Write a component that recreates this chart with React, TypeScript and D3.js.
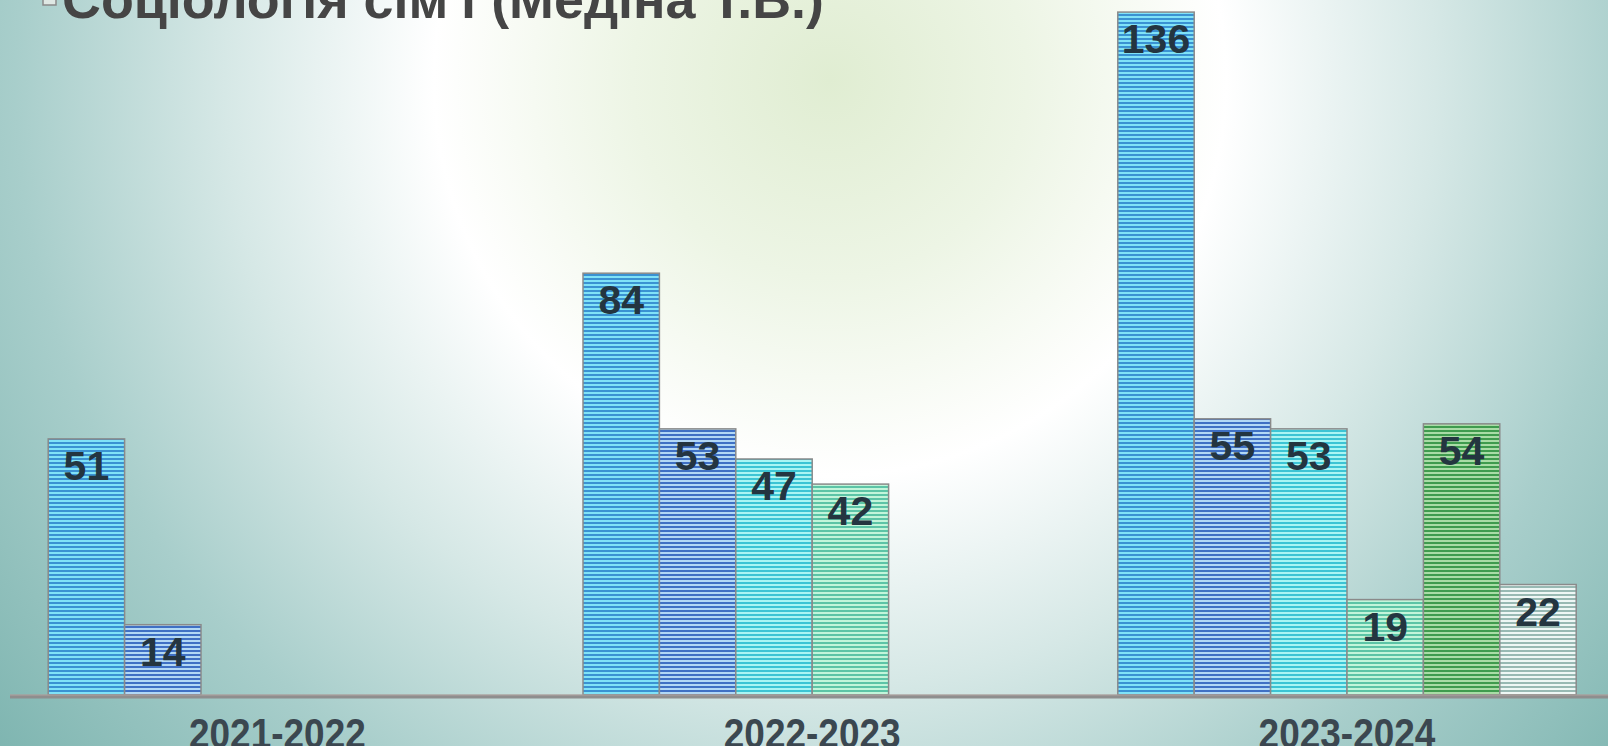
import React, { useEffect, useRef } from 'react';
import * as d3 from 'd3';

const title = "Соціологія сім'ї (Медіна Т.В.)";
const years = ['2021-2022', '2022-2023', '2023-2024'];
const seriesNames = ['s1', 's2', 's3', 's4', 's5', 's6'];
// values per year, null = no bar
const year2122 = [51, 14, null, null, null, null];
const year2223 = [84, 53, 47, 42, null, null];
const year2324 = [136, 55, 53, 19, 54, 22];

// stripe colours: [light, dark]
const stripeColors = [
  ['#80e2f7', '#3a92d2'],
  ['#b2d8f5', '#3f70c4'],
  ['#aaf5f3', '#3cc4d4'],
  ['#c2f5da', '#5cc4a6'],
  ['#a9dca6', '#3f9b4e'],
  ['#eef7f5', '#98b9b3'],
];

const W = 1608;
const H = 746;

export default function App() {
  const ref = useRef<SVGSVGElement>(null);

  useEffect(() => {
    const svg = d3.select(ref.current);
    svg.selectAll('*').remove();

    const defs = svg.append('defs');
    const bg = defs.append('radialGradient')
      .attr('id', 'bg')
      .attr('gradientUnits', 'userSpaceOnUse')
      .attr('cx', 830).attr('cy', 80).attr('r', 1100);
    [[0, '#e0edd2'], [0.18, '#edf5e5'], [0.36, '#ffffff'], [0.55, '#d6e8e6'], [0.74, '#a8cecb'], [1, '#79b2ad']]
      .forEach(([o, c]) => bg.append('stop').attr('offset', o as number).attr('stop-color', c as string));

    stripeColors.forEach((c, i) => {
      const p = defs.append('pattern')
        .attr('id', 'stripe' + i)
        .attr('patternUnits', 'userSpaceOnUse')
        .attr('width', 8).attr('height', 4);
      p.append('rect').attr('width', 8).attr('height', 4).attr('fill', c[0]);
      p.append('rect').attr('y', 2).attr('width', 8).attr('height', 2).attr('fill', c[1]);
    });

    svg.append('rect').attr('width', W).attr('height', H).attr('fill', 'url(#bg)');

    // title / legend entry (cut at top)
    svg.append('rect')
      .attr('x', 43).attr('y', -7).attr('width', 13).attr('height', 12)
      .attr('fill', '#dfe8e4').attr('stroke', '#8a8a8a').attr('stroke-width', 1.5);
    svg.append('text')
      .attr('x', 62).attr('y', 18)
      .attr('textLength', 762).attr('lengthAdjust', 'spacingAndGlyphs')
      .style('font-family', 'Liberation Sans, Arial, sans-serif')
      .style('font-weight', 'bold').style('font-size', '54px')
      .attr('fill', '#454545')
      .text(title);

    const x = d3.scaleBand().domain(years).range([10, 10 + 3 * 534.8]);
    const xs = d3.scaleBand().domain(seriesNames).range([0, x.bandwidth()])
      .paddingInner(0).paddingOuter(0.5);
    const y = d3.scaleLinear().domain([0, 140]).range([695, -8]);

    const rows = [year2122, year2223, year2324];
    const data: { year: string; s: number; v: number }[] = [];
    rows.forEach((r, yi) => r.forEach((v, si) => {
      if (v != null) data.push({ year: years[yi], s: si, v: v });
    }));

    const g = svg.append('g');
    g.selectAll('rect.bar')
      .data(data)
      .enter()
      .append('rect')
      .attr('class', 'bar')
      .attr('x', d => (x(d.year) as number) + (xs(seriesNames[d.s]) as number))
      .attr('y', d => y(d.v))
      .attr('width', xs.bandwidth())
      .attr('height', d => y(0) - y(d.v))
      .attr('fill', d => 'url(#stripe' + d.s + ')')
      .attr('stroke', '#8a8a8a')
      .attr('stroke-width', 1.5);

    g.selectAll('text.lbl')
      .data(data)
      .enter()
      .append('text')
      .attr('class', 'lbl')
      .attr('x', d => (x(d.year) as number) + (xs(seriesNames[d.s]) as number) + xs.bandwidth() / 2)
      .attr('y', d => y(d.v) + 41)
      .attr('text-anchor', 'middle')
      .style('font-family', 'Liberation Sans, Arial, sans-serif')
      .style('font-weight', 'bold').style('font-size', '41px')
      .attr('fill', '#243540')
      .text(d => d.v);

    // axis line
    svg.append('line')
      .attr('x1', 10).attr('x2', W).attr('y1', 696.5).attr('y2', 696.5)
      .attr('stroke', '#8e8e8e').attr('stroke-width', 4);
    svg.append('line')
      .attr('x1', 10).attr('x2', W).attr('y1', 695).attr('y2', 695)
      .attr('stroke', '#c9b2ab').attr('stroke-width', 1).attr('opacity', 0.6);

    // category labels
    svg.selectAll('text.cat')
      .data(years)
      .enter()
      .append('text')
      .attr('class', 'cat')
      .attr('transform', d => `translate(${(x(d) as number) + x.bandwidth() / 2},748) scale(0.86,1)`)
      .attr('text-anchor', 'middle')
      .style('font-family', 'Liberation Sans, Arial, sans-serif')
      .style('font-weight', 'bold').style('font-size', '43px')
      .attr('fill', '#3b4750')
      .text(d => d);
  }, []);

  return (
    <svg ref={ref} width={W} height={H}
      style={{ position: 'absolute', left: 0, top: 0, display: 'block' }} />
  );
}
